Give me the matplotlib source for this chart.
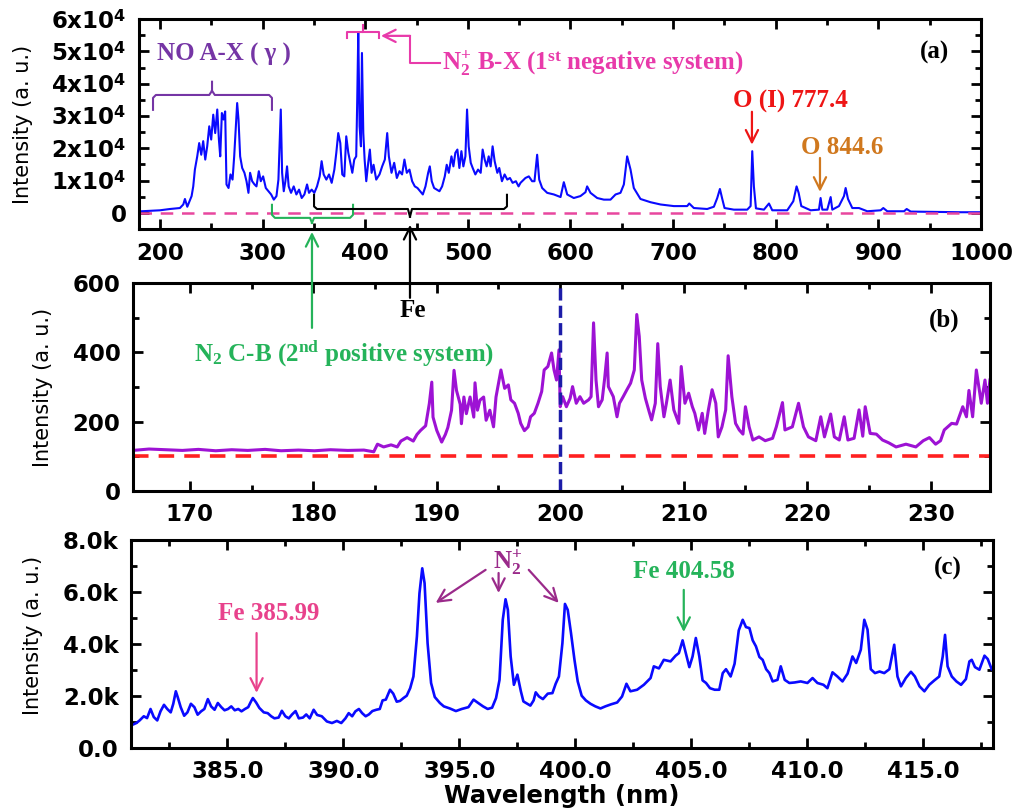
import numpy as np
import matplotlib
matplotlib.use('Agg')
import matplotlib.pyplot as plt
from matplotlib.ticker import MultipleLocator, FuncFormatter

plt.rcParams['font.family'] = 'DejaVu Sans'
plt.rcParams['font.weight'] = 'bold'
plt.rcParams['mathtext.fontset'] = 'custom'
plt.rcParams['mathtext.rm'] = 'Liberation Serif:bold'
plt.rcParams['mathtext.it'] = 'Liberation Serif:italic:bold'
plt.rcParams['mathtext.bf'] = 'Liberation Serif:bold'
plt.rcParams['mathtext.sf'] = 'DejaVu Sans:bold'

# ── (a) full survey spectrum, 180-1000 nm ────────────────────────────────
a_wl = [182.2, 200.0, 209.7, 219.4, 222.7, 224.3, 226.6, 230.8, 232.4, 234.0,
        236.3, 238.2, 240.2, 242.1, 244.1, 246.0, 248.0, 249.9, 251.9, 253.8,
        255.8, 257.4, 258.7, 260.3, 261.9, 263.5, 264.8, 266.8, 268.7, 270.7,
        272.3, 273.9, 275.2, 276.5, 278.1, 280.1, 282.3, 284.3, 286.2, 287.8,
        289.8, 292.1, 294.0, 296.3, 298.2, 300.5, 303.1, 305.7, 308.3, 310.9,
        313.5, 315.4, 316.7, 317.7, 319.0, 320.6, 322.2, 323.8, 325.4, 327.7,
        330.3, 332.9, 335.5, 338.1, 340.7, 343.3, 345.2, 347.8, 350.4, 353.0,
        355.6, 357.5, 359.5, 362.1, 364.7, 367.3, 369.9, 371.8, 373.7, 375.7,
        377.6, 379.6, 381.5, 383.5, 385.4, 387.4, 389.3, 391.2, 392.2, 393.2,
        394.5, 395.8, 396.8, 398.1, 399.4, 401.0, 402.9, 404.5, 406.2, 408.1,
        410.7, 413.9, 416.5, 419.1, 421.4, 423.0, 425.6, 428.2, 430.8, 433.4,
        435.9, 438.2, 440.5, 443.1, 445.7, 448.3, 450.9, 453.5, 456.1, 458.7,
        461.3, 462.9, 464.8, 467.1, 469.7, 472.3, 474.9, 477.5, 479.4, 481.4,
        484.0, 485.9, 487.8, 489.8, 491.7, 493.7, 495.6, 497.6, 499.2, 500.8,
        502.8, 504.7, 507.3, 509.9, 512.5, 514.4, 516.4, 518.3, 520.3, 522.2,
        524.1, 526.1, 528.7, 530.6, 533.2, 535.8, 538.4, 541.0, 543.6, 546.8,
        549.4, 551.3, 556.1, 559.4, 562.6, 564.9, 567.5, 569.5, 572.4, 577.3,
        583.8, 590.3, 593.5, 596.8, 603.2, 609.7, 614.6, 616.2, 619.5, 626.0,
        632.5, 639.0, 643.9, 648.7, 652.0, 655.2, 658.5, 661.7, 668.2, 678.0,
        687.7, 700.7, 713.7, 715.7, 720.2, 733.2, 739.7, 743.0, 745.6, 747.9,
        750.1, 759.2, 772.2, 775.5, 777.1, 778.7, 780.7, 788.5, 793.4, 796.6,
        811.2, 817.1, 820.3, 822.3, 824.9, 834.0, 842.1, 843.7, 845.4, 850.2,
        853.5, 855.1, 861.6, 866.5, 868.1, 870.4, 874.6, 881.1, 889.2, 902.2,
        904.8, 908.7, 925.0, 927.6, 931.5, 954.2, 980.2, 999.7]
a_int = [500, 800, 1200, 1500, 2600, 4300, 1900, 5200, 8200, 13400,
         17500, 21600, 18000, 22200, 16500, 20600, 26800, 22700, 30400, 24700,
         32000, 22700, 17500, 30900, 28900, 31400, 8800, 7700, 11900, 10300,
         17500, 26800, 34000, 28900, 17500, 13900, 12400, 9800, 6200, 12400,
         9800, 8800, 8200, 12900, 9800, 11300, 7700, 6700, 5700, 4100,
         5200, 10300, 22700, 32000, 12400, 6700, 9800, 14400, 8200, 6200,
         8200, 5700, 7200, 4600, 5700, 8800, 6200, 7200, 6200, 8200,
         11300, 16000, 11900, 10300, 11900, 9300, 13400, 18600, 24700, 21600,
         11900, 11300, 23700, 18600, 15500, 12400, 16500, 17500, 35000, 55700,
         26800, 20600, 49500, 24700, 16500, 9800, 15500, 19600, 12400, 14900,
         10300, 11900, 14400, 16500, 24700, 17500, 12400, 15500, 10800, 12900,
         11900, 16500, 12400, 13400, 9800, 8200, 7700, 6700, 5700, 8200,
         12400, 14400, 9800, 7700, 7200, 6700, 8200, 11300, 14900, 12400,
         17500, 14400, 18600, 19600, 13900, 19100, 14400, 17500, 32000, 20600,
         15500, 13900, 11900, 13400, 12400, 19600, 16500, 14400, 17500, 14400,
         20600, 16000, 12400, 13900, 9800, 11900, 10300, 10800, 9300, 9800,
         8200, 9300, 10800, 11300, 9800, 9800, 18000, 10300, 7700, 6200,
         5700, 4900, 9500, 5700, 4600, 5200, 6400, 8200, 6200, 4600,
         4100, 4100, 5700, 6200, 8800, 17500, 13400, 7700, 4300, 3300,
         2600, 2100, 2100, 2900, 1500, 1200, 1900, 4600, 7400, 4300,
         1500, 1000, 1000, 2100, 19100, 8200, 1400, 1000, 2900, 800,
         800, 3600, 8200, 6200, 2100, 800, 1000, 4600, 1000, 1000,
         4900, 1000, 2100, 5200, 7700, 4300, 1500, 1500, 500, 800,
         1500, 500, 500, 1200, 400, 300, 200, 200]

# ── (b) VUV region, 165-235 nm ───────────────────────────────────────────
b_wl = [165.4, 166.7, 168.1, 169.4, 170.7, 172.1, 173.4, 174.7, 176.1, 177.4,
        178.8, 180.1, 181.4, 182.8, 184.1, 184.9, 185.2, 185.7, 186.3, 186.8,
        187.1, 187.6, 188.1, 188.4, 188.7, 189.1, 189.4, 189.6, 189.7, 190.0,
        190.4, 190.7, 190.9, 191.2, 191.4, 191.6, 191.9, 192.0, 192.2, 192.4,
        192.7, 193.0, 193.1, 193.3, 193.5, 193.8, 194.0, 194.3, 194.6, 194.8,
        195.2, 195.5, 195.8, 196.0, 196.3, 196.6, 196.8, 197.1, 197.4, 197.6,
        197.9, 198.2, 198.5, 198.7, 199.0, 199.3, 199.5, 199.7, 199.9, 200.0,
        200.2, 200.5, 200.8, 201.0, 201.3, 201.6, 201.9, 202.3, 202.5, 202.7,
        202.9, 203.1, 203.4, 203.6, 203.8, 203.9, 204.3, 204.6, 204.8, 205.1,
        205.4, 205.7, 206.0, 206.2, 206.4, 206.6, 206.9, 207.2, 207.4, 207.7,
        207.9, 208.1, 208.4, 208.6, 208.9, 209.2, 209.6, 209.8, 210.1, 210.4,
        210.7, 210.9, 211.2, 211.5, 211.7, 212.0, 212.3, 212.6, 212.8, 213.1,
        213.4, 213.6, 213.9, 214.2, 214.5, 214.8, 215.0, 215.3, 215.6, 216.1,
        216.6, 217.2, 217.5, 218.0, 218.2, 218.8, 219.3, 219.7, 220.1, 220.7,
        221.1, 221.4, 221.9, 222.2, 222.6, 223.0, 223.3, 223.8, 224.2, 224.5,
        224.7, 225.1, 225.6, 226.1, 226.6, 227.2, 228.0, 228.8, 229.4, 229.9,
        230.4, 230.8, 231.1, 231.7, 232.1, 232.6, 232.9, 233.1, 233.4, 233.7,
        234.1, 234.4, 234.6, 234.8]
b_int = [117, 121, 119, 117, 120, 116, 119, 117, 120, 116,
         118, 116, 119, 117, 118, 113, 135, 127, 133, 127,
         144, 154, 144, 163, 175, 188, 252, 314, 213, 175,
         141, 163, 183, 233, 348, 290, 250, 194, 271, 223,
         271, 213, 312, 233, 262, 271, 204, 233, 185, 271,
         349, 296, 306, 263, 253, 224, 195, 174, 185, 214,
         224, 253, 287, 349, 359, 398, 349, 320, 407, 243,
         272, 243, 267, 301, 253, 272, 253, 263, 272, 485,
         320, 243, 263, 325, 398, 301, 272, 214, 253, 272,
         292, 311, 349, 509, 446, 320, 267, 229, 205, 253,
         425, 301, 214, 253, 320, 234, 195, 359, 253, 282,
         243, 224, 176, 224, 166, 234, 292, 253, 156, 185,
         234, 390, 272, 195, 176, 164, 243, 185, 147, 156,
         145, 152, 185, 255, 176, 185, 253, 185, 156, 145,
         214, 156, 222, 156, 147, 214, 147, 152, 234, 158,
         243, 166, 164, 147, 139, 127, 135, 127, 145, 154,
         135, 145, 176, 195, 193, 243, 214, 290, 214, 349,
         253, 320, 253, 320]

# ── (c) zoom on 381-418 nm, intensity in k counts ────────────────────────
c_wl = [380.93, 381.08, 381.22, 381.40, 381.54, 381.69, 381.83, 381.98, 382.12, 382.27,
        382.41, 382.56, 382.67, 382.78, 382.86, 382.99, 383.14, 383.28, 383.43, 383.58,
        383.72, 383.87, 384.01, 384.16, 384.30, 384.45, 384.59, 384.74, 384.88, 385.03,
        385.17, 385.32, 385.47, 385.61, 385.76, 385.90, 386.02, 386.10, 386.24, 386.38,
        386.57, 386.74, 386.89, 387.03, 387.21, 387.35, 387.50, 387.65, 387.79, 387.94,
        388.08, 388.26, 388.40, 388.55, 388.72, 388.87, 389.07, 389.29, 389.51, 389.72,
        389.91, 390.09, 390.23, 390.38, 390.52, 390.67, 390.81, 390.96, 391.10, 391.25,
        391.42, 391.57, 391.69, 391.83, 392.01, 392.15, 392.30, 392.44, 392.59, 392.73,
        392.88, 393.02, 393.17, 393.28, 393.40, 393.50, 393.63, 393.78, 393.94, 394.16,
        394.33, 394.59, 394.85, 395.10, 395.39, 395.61, 395.78, 396.02, 396.22, 396.41,
        396.58, 396.73, 396.87, 396.99, 397.09, 397.21, 397.35, 397.50, 397.65, 397.76,
        398.06, 398.20, 398.29, 398.43, 398.60, 398.81, 399.01, 399.15, 399.29, 399.44,
        399.55, 399.67, 399.81, 399.96, 400.10, 400.27, 400.45, 400.65, 400.86, 401.08,
        401.29, 401.54, 401.80, 402.01, 402.20, 402.37, 402.66, 402.95, 403.24, 403.38,
        403.60, 403.81, 404.10, 404.32, 404.46, 404.62, 404.76, 404.91, 405.05, 405.19,
        405.34, 405.48, 405.63, 405.80, 406.00, 406.20, 406.35, 406.49, 406.69, 406.86,
        407.04, 407.21, 407.35, 407.50, 407.64, 407.78, 407.93, 408.07, 408.22, 408.36,
        408.50, 408.71, 408.85, 409.02, 409.22, 409.45, 409.71, 410.00, 410.22, 410.43,
        410.69, 410.86, 411.08, 411.29, 411.51, 411.73, 411.94, 412.10, 412.30, 412.45,
        412.59, 412.73, 412.91, 413.11, 413.31, 413.53, 413.74, 413.88, 414.03, 414.24,
        414.46, 414.63, 414.83, 415.04, 415.25, 415.47, 415.68, 415.83, 415.93, 416.04,
        416.22, 416.42, 416.62, 416.83, 416.98, 417.08, 417.22, 417.41, 417.63, 417.77,
        417.94]
c_int_k = [0.90, 0.96, 1.06, 1.22, 1.15, 1.50, 1.19, 1.06, 1.41, 1.66,
           1.50, 1.37, 1.70, 2.18, 1.96, 1.57, 1.24, 1.37, 1.70, 1.57,
           1.28, 1.41, 1.50, 1.88, 1.60, 1.47, 1.73, 1.57, 1.45, 1.50,
           1.60, 1.45, 1.50, 1.41, 1.50, 1.57, 1.79, 1.92, 1.75, 1.54,
           1.37, 1.34, 1.22, 1.14, 1.17, 1.43, 1.22, 1.14, 1.29, 1.42,
           1.14, 1.17, 1.29, 1.14, 1.47, 1.27, 1.22, 1.02, 0.96, 1.04,
           0.96, 1.14, 1.34, 1.22, 1.41, 1.50, 1.34, 1.22, 1.29, 1.42,
           1.47, 1.50, 1.83, 1.86, 2.24, 2.09, 1.78, 1.81, 1.92, 2.01,
           2.30, 2.75, 4.29, 5.95, 6.91, 6.34, 4.03, 2.50, 1.96, 1.73,
           1.60, 1.52, 1.42, 1.50, 1.57, 1.86, 1.75, 1.60, 1.50, 1.55,
           1.92, 2.62, 4.93, 5.72, 5.31, 3.52, 2.43, 2.82, 2.18, 1.79,
           1.63, 1.83, 2.14, 1.98, 1.88, 2.09, 2.11, 2.47, 2.75, 4.03,
           5.54, 5.31, 4.42, 3.39, 2.56, 2.01, 1.83, 1.70, 1.60, 1.52,
           1.60, 1.68, 1.75, 1.98, 2.47, 2.18, 2.24, 2.43, 2.69, 3.14,
           3.06, 3.39, 3.33, 3.55, 3.65, 4.14, 3.65, 3.11, 3.52, 4.23,
           3.52, 2.60, 2.50, 2.30, 2.24, 2.24, 2.88, 3.03, 2.75, 3.24,
           4.52, 4.93, 4.65, 4.61, 4.14, 3.91, 3.50, 3.39, 3.03, 2.88,
           2.56, 2.62, 3.14, 2.62, 2.50, 2.52, 2.56, 2.50, 2.69, 2.50,
           2.43, 2.30, 2.91, 2.75, 2.56, 2.86, 3.52, 3.27, 3.78, 4.93,
           4.55, 3.03, 2.88, 2.94, 2.88, 3.03, 3.97, 2.75, 2.37, 2.69,
           2.93, 2.75, 2.37, 2.18, 2.43, 2.60, 2.75, 3.52, 4.35, 3.14,
           2.75, 2.56, 2.43, 2.65, 3.33, 3.39, 3.11, 3.01, 3.55, 3.42,
           3.03]
c_int = np.array(c_int_k) * 1000

SERIF = 'Liberation Serif'
ANN_SIZE = 18


def style_axis(ax):
    for s in ax.spines.values():
        s.set_linewidth(2.2)
    ax.tick_params(which='both', direction='in', top=True, right=True, width=2)
    ax.tick_params(which='major', length=7, labelsize=16.5, pad=9)
    ax.tick_params(which='minor', length=4.5)
    ax.set_ylabel('Intensity (a. u.)', fontsize=15, fontweight='normal')


def note(ax, txt, x, y, color, **kw):
    ax.text(x, y, txt, color=color, fontsize=ANN_SIZE, family=SERIF,
            fontweight='bold', ha=kw.pop('ha', 'center'), va='center',
            clip_on=False, **kw)


def arrow(ax, start, end, color):
    ax.annotate('', xy=end, xytext=start, annotation_clip=False,
                arrowprops=dict(arrowstyle='->', color=color, lw=1.6,
                                mutation_scale=22, shrinkA=0, shrinkB=0))


fig = plt.figure(figsize=(10.15, 8.11), dpi=100)
ax_a = fig.add_axes([0.1369, 0.7176, 0.8296, 0.2589])
ax_b = fig.add_axes([0.1310, 0.3946, 0.8443, 0.2565])
ax_c = fig.add_axes([0.1291, 0.0777, 0.8493, 0.2565])
# panel (a) carries labels that reach down into panel (b)
ax_a.set_zorder(5)
ax_b.set_facecolor('none')

# ---- panel (a)
ax_a.plot(a_wl, a_int, color='#0a0aff', lw=1.5)
ax_a.axhline(0, color='#e8479e', lw=1.8, ls=(0, (5, 3.5)))
ax_a.set_xlim(179.5, 1000)
ax_a.set_ylim(-5000, 60000)
ax_a.xaxis.set_major_locator(MultipleLocator(100))
ax_a.xaxis.set_minor_locator(MultipleLocator(50))
ax_a.yaxis.set_major_locator(MultipleLocator(10000))
ax_a.yaxis.set_minor_locator(MultipleLocator(5000))
ax_a.yaxis.set_major_formatter(FuncFormatter(
    lambda v, p: '0' if v == 0 else '%dx10$^{\\mathsf{4}}$' % round(v / 1e4)))
style_axis(ax_a)
ax_a.yaxis.set_label_coords(-0.126, 0.5)
ax_a.text(0.945, 0.843, '(a)', transform=ax_a.transAxes, fontsize=ANN_SIZE,
          family=SERIF, fontweight='bold', ha='center', va='center')

# NO A-X bracket
purple = '#7535a5'
ax_a.plot([193.2, 193.2, 196, 248, 250.7, 250.7], [31900, 35600, 36500, 36500, 37800, 40600],
          color=purple, lw=1.5, clip_on=False)
ax_a.plot([250.7, 253.4, 306.3, 309.1, 309.1], [37800, 36500, 36500, 35600, 31900],
          color=purple, lw=1.5, clip_on=False)
note(ax_a, 'NO A-X ( γ )', 197, 48900, purple, ha='left')

# N2+ B-X bracket on top
magenta = '#e83aaa'
ax_a.plot([382.2, 382.2, 397.8, 397.8], [54200, 56000, 56000, 58200], color=magenta, lw=1.5, clip_on=False)
ax_a.plot([397.8, 413.4, 413.4], [56000, 56000, 54200], color=magenta, lw=1.5, clip_on=False)
ax_a.plot([472.8, 443.6, 443.6], [46400, 46400, 54800], color=magenta, lw=1.5, clip_on=False)
arrow(ax_a, (443.6, 54800), (415.3, 54800), magenta)
note(ax_a, r'N$_{2}^{+}$ B-X (1$^{\mathrm{st}}$ negative system)', 474.8, 46400, magenta, ha='left')

# O lines
arrow(ax_a, (776.8, 31300), (776.8, 21100), '#ee1515')
note(ax_a, 'O (I) 777.4', 814.8, 34400, '#ee1515')
arrow(ax_a, (843.1, 17000), (843.1, 6500), '#d0781e')
note(ax_a, 'O 844.6', 864.5, 20100, '#d0781e')

# N2 C-B bracket under the baseline
green = '#25b35a'
ax_a.plot([309.1, 309.1, 312, 346.2, 348.1], [2500, -600, -1550, -1550, -3100], color=green, lw=1.5, clip_on=False)
ax_a.plot([348.1, 350.1, 385.2, 388.1, 388.1], [-3100, -1550, -1550, -600, 2500], color=green, lw=1.5, clip_on=False)
arrow(ax_a, (348.1, -35600), (348.1, -5900), green)
note(ax_a, r'N$_{2}$ C-B (2$^{\mathrm{nd}}$ positive system)', 379.3, -43300, green)

# Fe bracket
ax_a.plot([350.1, 350.1, 353, 441.6, 443.6], [5600, 2000, 1200, 1200, -1200], color='black', lw=1.5, clip_on=False)
ax_a.plot([443.6, 445.5, 535.2, 538.1, 538.1], [-1200, 1200, 1200, 2000, 5600], color='black', lw=1.5, clip_on=False)
arrow(ax_a, (443.6, -26300), (443.6, -3700), 'black')
note(ax_a, 'Fe', 446.5, -30300, 'black')

# ---- panel (b)
ax_b.plot(b_wl, b_int, color='#9d12d4', lw=2.2)
ax_b.axhline(100, color='#ff2020', lw=2.6, ls=(0, (4.3, 2.8)))
ax_b.axvline(200, color='#1c1ca8', lw=2.5, ls=(0, (3.5, 1.5)))
ax_b.set_xlim(165.4, 234.8)
ax_b.set_ylim(0, 600)
ax_b.xaxis.set_major_locator(MultipleLocator(10))
ax_b.xaxis.set_minor_locator(MultipleLocator(5))
ax_b.yaxis.set_major_locator(MultipleLocator(200))
ax_b.yaxis.set_minor_locator(MultipleLocator(100))
style_axis(ax_b)
ax_b.yaxis.set_label_coords(-0.093, 0.5)
ax_b.text(0.947, 0.822, '(b)', transform=ax_b.transAxes, fontsize=ANN_SIZE,
          family=SERIF, fontweight='bold', ha='center', va='center')

# ---- panel (c)
ax_c.plot(c_wl, c_int, color='#0a0aff', lw=1.9)
ax_c.set_xlim(380.85, 418.0)
ax_c.set_ylim(0, 8000)
ax_c.xaxis.set_major_locator(MultipleLocator(5))
ax_c.xaxis.set_minor_locator(MultipleLocator(2.5))
ax_c.xaxis.set_major_formatter(FuncFormatter(lambda v, p: '%.1f' % v))
ax_c.yaxis.set_major_locator(MultipleLocator(2000))
ax_c.yaxis.set_minor_locator(MultipleLocator(1000))
ax_c.yaxis.set_major_formatter(FuncFormatter(
    lambda v, p: '0.0' if v == 0 else '%.1fk' % (v / 1000)))
style_axis(ax_c)
ax_c.yaxis.set_label_coords(-0.102, 0.543)
ax_c.set_xlabel('Wavelength (nm)', fontsize=17.5, fontweight='bold')
ax_c.xaxis.set_label_coords(0.5, -0.175)
ax_c.text(0.947, 0.865, '(c)', transform=ax_c.transAxes, fontsize=ANN_SIZE,
          family=SERIF, fontweight='bold', ha='center', va='center')

pink = '#e8428c'
note(ax_c, 'Fe 385.99', 386.78, 5190, pink)
arrow(ax_c, (386.26, 4420), (386.26, 2120), pink)

plum = '#9a2a8a'
note(ax_c, r'N$_{2}^{+}$', 397.1, 7150, plum)
arrow(ax_c, (396.13, 6850), (393.98, 5580), plum)
arrow(ax_c, (396.69, 6730), (396.69, 5960), plum)
arrow(ax_c, (397.99, 6850), (399.28, 5580), plum)

note(ax_c, 'Fe 404.58', 404.67, 6770, green)
arrow(ax_c, (404.67, 6080), (404.67, 4460), green)

fig.savefig('out.png', dpi=100)
